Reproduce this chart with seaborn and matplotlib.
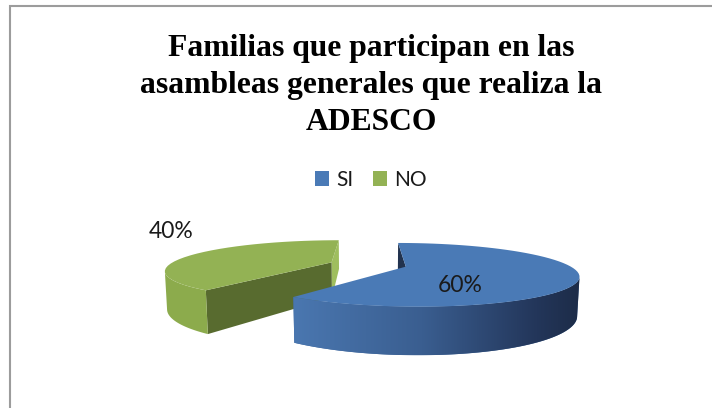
import numpy as np
import matplotlib
matplotlib.use("Agg")
import matplotlib.pyplot as plt
import seaborn as sns
from matplotlib.patches import Polygon, Rectangle
from matplotlib.path import Path
from matplotlib.transforms import Transform
from matplotlib.colors import LinearSegmentedColormap

# ---------------- data ----------------
categories = ["SI", "NO"]
values = [60, 40]
title_lines = ["Familias que participan en las",
               "asambleas generales que realiza la",
               "ADESCO"]

# ---------------- style ----------------
top_colors = ["#4a7ab6", "#93b254"]
side_colors = ["#3f679c", "#8cab4c"]
cut_colors = [["#22334f", "#22334f"], ["#9fbe5e", "#586b2f"]]

sns.set_theme(style="white")
plt.rcParams["font.family"] = ["Lato", "DejaVu Sans"]

W, H = 712, 408
fig = plt.figure(figsize=(W / 100, H / 100), dpi=100)
fig.patch.set_facecolor("white")
ax = fig.add_axes([0, 0, 1, 1])

# simple perspective camera (pixel units)
CX, CY = 368, 264.5
DIST = 636.0
SB = 0.177
CB = np.sqrt(1 - SB ** 2)
THICK = 37.0
RADIUS = 162
EXPLODE = 39


def project(u, v, z=0.0):
    u = np.asarray(u, float)
    v = np.asarray(v, float)
    yc = v * SB + z * CB
    d = DIST + v * CB - z * SB
    return CX + DIST * u / d, CY - DIST * yc / d


class Persp(Transform):
    input_dims = output_dims = 2
    is_separable = False
    has_inverse = False

    def transform_non_affine(self, values):
        values = np.asarray(values, float)
        xs, ys = project(values[:, 0], values[:, 1])
        return np.column_stack([xs, ys])

    def transform_path_non_affine(self, path):
        polys = path.to_polygons(closed_only=False)
        verts, codes = [], []
        for p in polys:
            tp = self.transform_non_affine(p)
            verts.append(tp)
            c = [Path.LINETO] * len(tp)
            c[0] = Path.MOVETO
            codes += c
        return Path(np.concatenate(verts), codes)


wedges, _ = ax.pie(values, colors=top_colors, startangle=90, counterclock=False,
                   radius=RADIUS, center=(0, 0), explode=[EXPLODE] * len(values),
                   wedgeprops=dict(linewidth=0), frame=True)

cam = np.array([0.0, -DIST * CB])
blue_grad = LinearSegmentedColormap.from_list(
    "g", [(0.0, "#4a77b0"), (0.45, "#3a5e90"), (0.85, "#23365a"), (1.0, "#1d2c48")])

persp = Persp()
for i, w in enumerate(wedges):
    cx, cy = w.center
    r = w.r
    t1, t2 = w.theta1, w.theta2
    z0 = 1 + 2 * (1 - i)  # green (back) first, blue in front
    # radial cut faces
    for j, (th, nrm) in enumerate(((t1, t1 - 90), (t2, t2 + 90))):
        n = np.array([np.cos(np.radians(nrm)), np.sin(np.radians(nrm))])
        ex = cx + r * np.cos(np.radians(th))
        ey = cy + r * np.sin(np.radians(th))
        mid = np.array([(cx + ex) / 2, (cy + ey) / 2])
        if np.dot(n, cam - mid) > 0:
            us = [cx, ex, ex, cx]
            vs = [cy, ey, ey, cy]
            zs = [0, 0, -THICK, -THICK]
            pts = [project(u, v, z) for u, v, z in zip(us, vs, zs)]
            ax.add_patch(Polygon(pts, closed=True, facecolor=cut_colors[i][j],
                                 edgecolor="none", zorder=z0))
    # outer curved side (only the part facing the camera)
    tt = np.linspace(t1, t2, 400)
    tr = np.radians(tt)
    px = cx + r * np.cos(tr)
    py = cy + r * np.sin(tr)
    vis = (np.cos(tr) * (cam[0] - px) + np.sin(tr) * (cam[1] - py)) > 0
    idx = np.where(vis)[0]
    if len(idx):
        runs = np.split(idx, np.where(np.diff(idx) > 1)[0] + 1)
        for run in runs:
            xt, yt = project(px[run], py[run], 0.0)
            xb, yb = project(px[run], py[run], -THICK)
            pts = list(zip(xt, yt)) + list(zip(xb[::-1], yb[::-1]))
            poly = Polygon(pts, closed=True, facecolor=side_colors[i],
                           edgecolor="none", zorder=z0 + 0.1)
            ax.add_patch(poly)
            if i == 0:
                x0, x1 = min(xt.min(), xb.min()), max(xt.max(), xb.max())
                y0, y1 = min(yt.min(), yb.min()), max(yt.max(), yb.max())
                grad = blue_grad(np.linspace(0, 1, 256))[None, :, :3]
                im = ax.imshow(grad, extent=[x0, x1, y1, y0], aspect="auto",
                               zorder=z0 + 0.2, interpolation="bilinear")
                im.set_clip_path(poly)
    w.set_transform(persp + ax.transData)
    w.set_zorder(z0 + 0.5)

# percentage labels
total = sum(values)
label_pos = [(460, 285), (171, 232)]
for v, (lx, ly) in zip(values, label_pos):
    ax.text(lx, ly, f"{v / total * 100:.0f}%", ha="center", va="center",
            fontsize=16.5, color="#1a1a1a", zorder=10)

ax.set_aspect("auto")
ax.set_xlim(0, W)
ax.set_ylim(H, 0)
ax.axis("off")

# title (one text per line, at measured baselines)
for line, yb in zip(title_lines, [56, 93, 130.5]):
    fig.text(371 / W, 1 - yb / H, line, ha="center", va="baseline",
             fontsize=22.8, fontweight="bold",
             family=["Liberation Serif", "DejaVu Serif"], color="black")

# legend
leg = ax.legend(wedges, categories, ncol=2, frameon=False, loc="center",
                bbox_to_anchor=(371 / W, 1 - 180 / H), bbox_transform=fig.transFigure,
                fontsize=15, handlelength=0.7, handleheight=0.7,
                handletextpad=0.35, columnspacing=0.9)
for t in leg.get_texts():
    t.set_color("#1a1a1a")

# outer border (extends beyond the visible area)
fig.patches.append(Rectangle((9.5 / W, -0.1), 1.2, 1.1 - 6 / H, transform=fig.transFigure,
                             fill=False, edgecolor="#9c9c9c", linewidth=1.5, zorder=0))

fig.savefig("out.png", dpi=100)
